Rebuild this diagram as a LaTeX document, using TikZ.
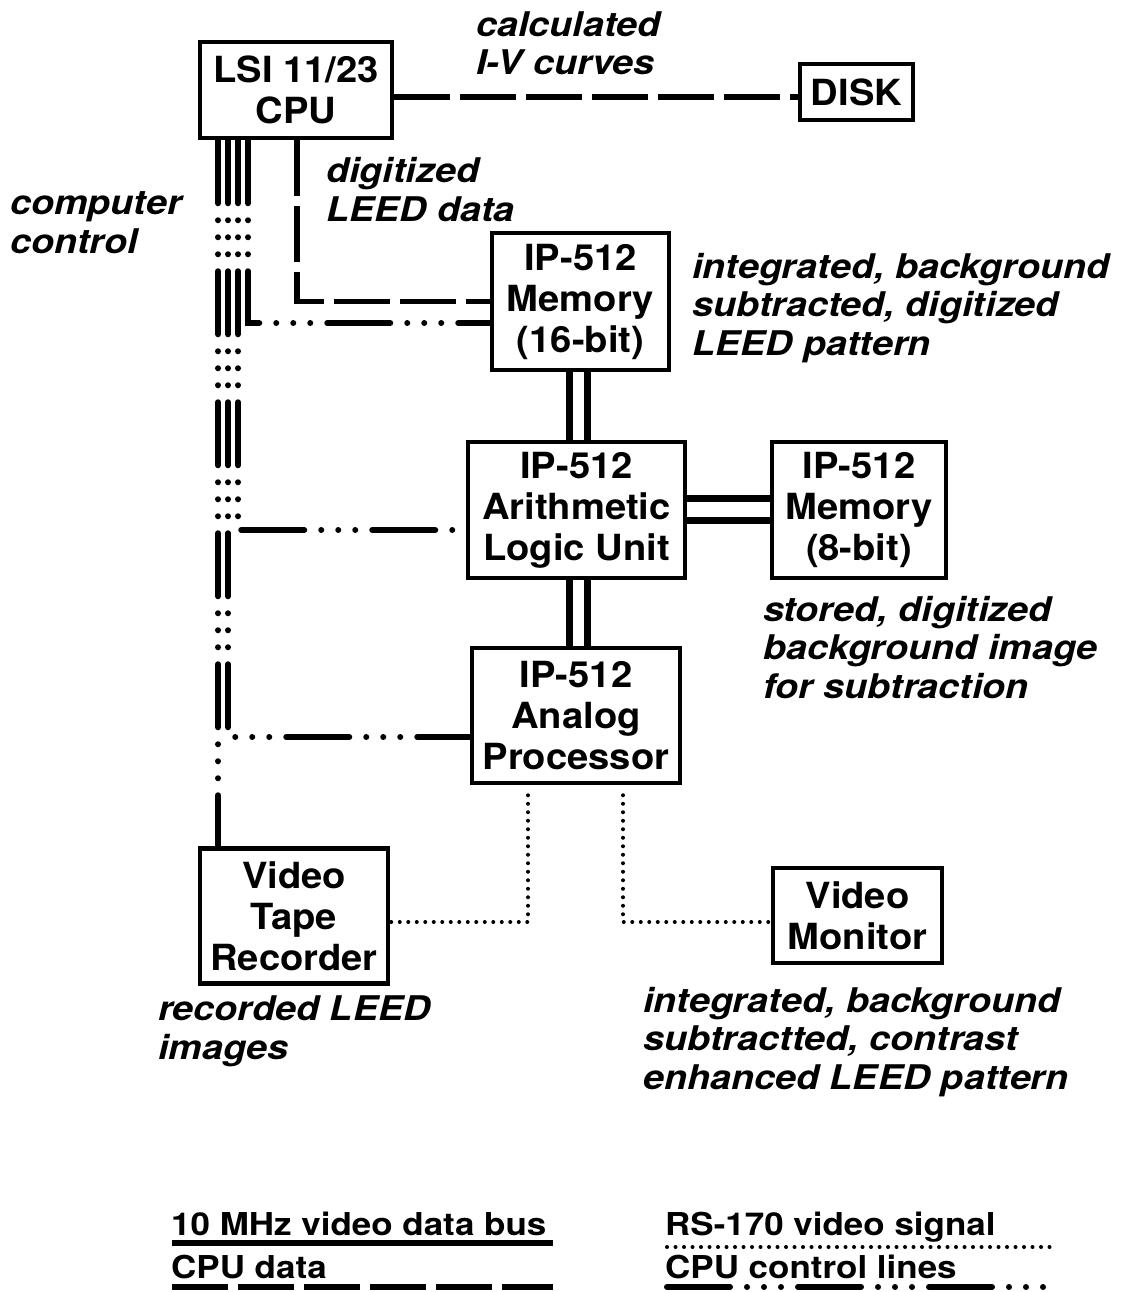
\documentclass[tikz,border=0pt]{standalone}
\usepackage{fontspec}
\setmainfont{TeX Gyre Heros}[FakeStretch=1.06]
\newfontfamily\lblfont{TeX Gyre Heros}[FakeStretch=1.11]
\begin{document}
\begin{tikzpicture}[x=1pt,y=-1pt,
  box/.style={draw, line width=4.5pt, inner sep=0pt, align=center,
    font=\fontsize{36}{41}\selectfont\bfseries},
  lbl/.style={anchor=base west, inner sep=0pt, align=left,
    font=\lblfont\fontsize{34}{38.5}\selectfont\bfseries\itshape},
  leg/.style={anchor=base west, inner sep=0pt, font=\lblfont\fontsize{31.5}{36}\selectfont\bfseries},
  cpudata/.style={line width=5.5pt, dash pattern=on 56pt off 10pt},
  ctrl/.style={line width=6pt, line cap=round,
    dash pattern=on 63pt off 17pt on 0pt off 17pt on 0pt off 17pt on 0pt off 17pt},
  video/.style={line width=4pt, line cap=round, dash pattern=on 0pt off 8.5pt},
  bus/.style={line width=7pt}]
\useasboundingbox (0,0) rectangle (1125,1292);

% boxes
\node[box, minimum width=192, minimum height=96] (cpu) at (296,90) {LSI 11/23\\CPU};
\node[box, minimum width=113, minimum height=56] (disk) at (856.5,92) {DISK};
\node[box, minimum width=177, minimum height=137] (mem16) at (580.5,301.5) {IP-512\\Memory\\(16-bit)};
\node[box, minimum width=217, minimum height=136] (alu) at (576.5,510) {IP-512\\Arithmetic\\Logic Unit};
\node[box, minimum width=174, minimum height=136] (mem8) at (859,510) {IP-512\\Memory\\(8-bit)};
\node[box, minimum width=208, minimum height=135] (analog) at (576,715.5) {IP-512\\Analog\\Processor};
\node[box, minimum width=188, minimum height=135] (vtr) at (294,916) {Video\\Tape\\Recorder};
\node[box, minimum width=169, minimum height=95] (monitor) at (857.5,915.5) {Video\\Monitor};

% labels (anchor = baseline of last line)
\node[lbl] (l1) at (476,75) {calculated\\I-V curves};
\node[lbl] (l2) at (326,221) {digitized\\LEED data};
\node[lbl] (l3) at (10,253) {computer\\control};
\node[lbl] (l4) at (692,355) {integrated, background\\subtracted, digitized\\LEED pattern};
\node[lbl] (l5) at (763,698) {stored, digitized\\background image\\for subtraction};
\node[lbl] (l6) at (158,1059) {recorded LEED\\images};
\node[lbl] (l7) at (643,1089) {integrated, background\\subtractted, contrast\\enhanced LEED pattern};

% CPU data lines
\draw[cpudata] (cpu.east |- 0,97) -- (disk.west |- 0,97);
\draw[cpudata] (cpu.south -| 297,0) |- (mem16.west);

% control lines
\draw[ctrl] (cpu.south -| 248,0) |- (mem16.west |- 0,323);
\draw[ctrl] (cpu.south -| 238,0) |- (alu.west |- 0,530);
\draw[ctrl] (cpu.south -| 228,0) |- (analog.west |- 0,737);
\draw[ctrl] (cpu.south -| 218,0) -- (vtr.north -| 218,0);

% video buses
\draw[bus] (mem16.south -| 569,0) -- (alu.north -| 569,0);
\draw[bus] (mem16.south -| 587,0) -- (alu.north -| 587,0);
\draw[bus] (alu.east |- 0,498) -- (mem8.west |- 0,498);
\draw[bus] (alu.east |- 0,520) -- (mem8.west |- 0,520);
\draw[bus] (alu.south -| 569,0) -- (analog.north -| 569,0);
\draw[bus] (alu.south -| 587,0) -- (analog.north -| 587,0);

% video signals
\draw[video] (analog.south -| 528,0) ++(0,10) |- (vtr.east |- 0,922);
\draw[video] (analog.south -| 623,0) ++(0,10) |- (monitor.west |- 0,922);

% legend
\node[leg] (g1) at (171,1235) {10 MHz video data bus};
\node[leg] (g2) at (171,1278) {CPU data};
\node[leg] (g3) at (665,1235) {RS-170 video signal};
\node[leg] (g4) at (665,1278) {CPU control lines};
\coordinate (g1a) at (172,1243); \coordinate (g1b) at (553,1243);
\coordinate (g2a) at (172,1287); \coordinate (g2b) at (553,1287);
\coordinate (g3a) at (667,1247); \coordinate (g3b) at (1055,1247);
\coordinate (g4a) at (667,1287); \coordinate (g4b) at (1055,1287);
\draw[line width=6pt] (g1a) -- (g1b);
\draw[cpudata] (g2a) -- (g2b);
\draw[video] (g3a) -- (g3b);
\draw[ctrl] (g4a) -- (g4b);
\end{tikzpicture}
\end{document}
